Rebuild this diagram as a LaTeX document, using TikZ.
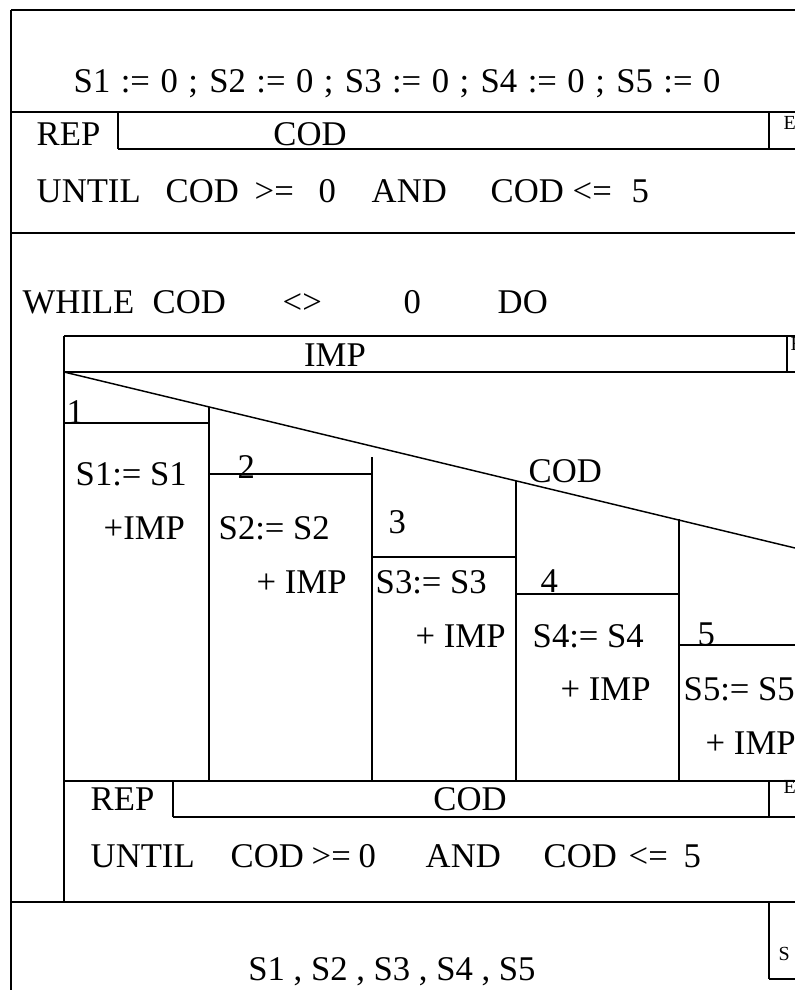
\documentclass[tikz,border=0pt]{standalone}
\usepackage{fontspec}
\setmainfont{Liberation Serif}
\usepackage{tikz}

\begin{document}
\begin{tikzpicture}[x=0.75pt,y=-0.75pt,line width=1.1pt,
  txt/.style={anchor=base west,inner sep=0pt,font=\fontsize{26}{30}\selectfont},
  ctxt/.style={txt,anchor=base},
  tag/.style={anchor=base west,inner sep=0pt,font=\fontsize{15}{17}\selectfont}]
\useasboundingbox (0,0) rectangle (795,990);
\clip (0,0) rectangle (795,990);

% outer frame and blocks
\draw[color=black] (11,10) -- (795,10);
\draw[color=black] (11,10) -- (11,990);
\draw[color=black] (11,112) -- (795,112);
\draw[color=black] (118,112) -- (118,149);
\draw[color=black] (118,149) -- (795,149);
\draw[color=black] (769,112) -- (769,149);
\draw[color=black] (11,233) -- (795,233);
\draw[color=black] (11,902) -- (795,902);
\draw[color=black] (769,902) -- (769,979);
\draw[color=black] (769,979) -- (795,979);

% while body
\draw[color=black] (64,336) -- (795,336);
\draw[color=black] (64,336) -- (64,902);
\draw[color=black] (64,372) -- (795,372);
\draw[color=black] (787,336) -- (787,372);
\draw[color=black] (64,372) -- (795,548);

% cases
\draw[color=black] (64,423) -- (209,423);
\draw[color=black] (209,407) -- (209,781);
\draw[color=black] (209,474) -- (372,474);
\draw[color=black] (372,457) -- (372,781);
\draw[color=black] (372,557) -- (516,557);
\draw[color=black] (516,481) -- (516,781);
\draw[color=black] (516,594) -- (679,594);
\draw[color=black] (679,519) -- (679,781);
\draw[color=black] (679,645) -- (795,645);

% inner repeat
\draw[color=black] (64,781) -- (795,781);
\draw[color=black] (173,781) -- (173,817);
\draw[color=black] (173,817) -- (795,817);
\draw[color=black] (769,781) -- (769,817);

% texts
\node (init) [txt] at (73,92) {\makebox[485pt][s]{S1 := 0 ; S2 := 0 ; S3 := 0 ; S4 := 0 ; S5 := 0}};
\node (rep1) [txt] at (36,145) {REP};
\node (cod1) [ctxt] at (310,145) {COD};
\node (e1) [tag] at (783,129) {E};
\node (un1) [txt] at (36,202) {UNTIL};
\node (un1a) [txt] at (165,202) {COD};
\node (un1b) [txt] at (254,202) {>=};
\node (un1c) [txt] at (318,202) {0};
\node (un1d) [txt] at (371,202) {AND};
\node (un1e) [txt] at (490,202) {COD};
\node (un1f) [txt] at (572,202) {<=};
\node (un1g) [txt] at (631,202) {5};

\node (wh) [txt] at (22,313) {WHILE};
\node (wha) [txt] at (152,313) {COD};
\node (whb) [txt] at (282,313) {<>};
\node (whc) [txt] at (403,313) {0};
\node (whd) [txt] at (497,313) {DO};
\node (imp) [ctxt] at (335,366) {IMP};
\node (e2) [tag] at (790,350) {E};

\node (sel) [txt] at (528,482) {COD};
\node (c1) [txt] at (66,423) {1};
\node (c1a) [txt] at (75,485) {S1:= S1};
\node (c1b) [txt] at (103,539) {+IMP};
\node (c2) [txt] at (237,478) {2};
\node (c2a) [txt] at (218,539) {S2:= S2};
\node (c2b) [txt] at (256,593) {+ IMP};
\node (c3) [txt] at (388,533) {3};
\node (c3a) [txt] at (375,593) {S3:= S3};
\node (c3b) [txt] at (415,647) {+ IMP};
\node (c4) [txt] at (540,592) {4};
\node (c4a) [txt] at (532,647) {S4:= S4};
\node (c4b) [txt] at (560,700) {+ IMP};
\node (c5) [txt] at (697,645) {5};
\node (c5a) [txt] at (683,700) {S5:= S5};
\node (c5b) [txt] at (705,754) {+ IMP};

\node (rep2) [txt] at (90,810) {REP};
\node (cod2) [ctxt] at (470,810) {COD};
\node (e3) [tag] at (783,793) {E};
\node (un2) [txt] at (90,867) {UNTIL};
\node (un2a) [txt] at (230,867) {COD};
\node (un2b) [txt] at (311,867) {>=};
\node (un2c) [txt] at (358,867) {0};
\node (un2d) [txt] at (425,867) {AND};
\node (un2e) [txt] at (543,867) {COD};
\node (un2f) [txt] at (628,867) {<=};
\node (un2g) [txt] at (683,867) {5};

\node (out) [ctxt] at (392,980) {S1 , S2 , S3 , S4 , S5};
\node (s) [tag] at (778,960) {S};
\end{tikzpicture}
\end{document}
